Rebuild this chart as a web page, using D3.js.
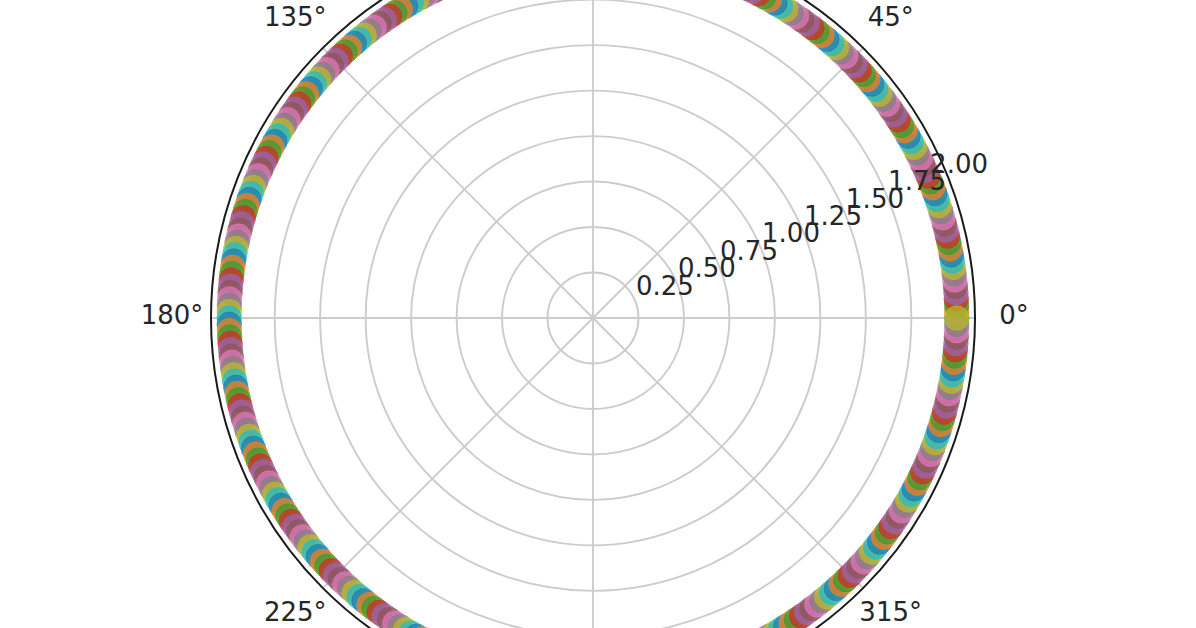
<!DOCTYPE html>
<html><head><meta charset="utf-8">
<script src="https://cdn.jsdelivr.net/npm/d3@7"></script>
<style>html,body{margin:0;padding:0;background:#fff;overflow:hidden}</style>
</head><body><svg id="chart" width="1196" height="628"></svg>
<script>
// angle of each point, in degrees (points evenly spaced around the circle)
const thetaDeg = [
0,1,2,3,4,5,6,7,8,9,10,11,12,13,14,15,16,17,18,19,
20,21,22,23,24,25,26,27,28,29,30,31,32,33,34,35,36,37,38,39,
40,41,42,43,44,45,46,47,48,49,50,51,52,53,54,55,56,57,58,59,
60,61,62,63,64,65,66,67,68,69,70,71,72,73,74,75,76,77,78,79,
80,81,82,83,84,85,86,87,88,89,
91,92,93,94,95,96,97,98,99,
100,101,102,103,104,105,106,107,108,109,110,111,112,113,114,115,116,117,118,119,
120,121,122,123,124,125,126,127,128,129,130,131,132,133,134,135,136,137,138,139,
140,141,142,143,144,145,146,147,148,149,150,151,152,153,154,155,156,157,158,159,
160,161,162,163,164,165,166,167,168,169,170,171,172,173,174,175,176,177,178,179,
180,181,182,183,184,185,186,187,188,189,190,191,192,193,194,195,196,197,198,199,
200,201,202,203,204,205,206,207,208,209,210,211,212,213,214,215,216,217,218,219,
220,221,222,223,224,225,226,227,228,229,230,231,232,233,234,235,236,237,238,239,
240,241,242,243,244,245,246,247,248,249,250,251,252,253,254,255,256,257,258,259,
260,261,262,263,264,265,266,267,268,269,
271,272,273,274,275,276,277,278,279,
280,281,282,283,284,285,286,287,288,289,290,291,292,293,294,295,296,297,298,299,
300,301,302,303,304,305,306,307,308,309,310,311,312,313,314,315,316,317,318,319,
320,321,322,323,324,325,326,327,328,329,330,331,332,333,334,335,336,337,338,339,
340,341,342,343,344,345,346,347,348,349,350,351,352,353,354,355,356,357,358,359,
360
];
// radius of each point
const rValues = [
2,2,2,2,2,2,2,2,2,2,2,2,2,2,2,2,2,2,2,2,
2,2,2,2,2,2,2,2,2,2,2,2,2,2,2,2,2,2,2,2,
2,2,2,2,2,2,2,2,2,2,2,2,2,2,2,2,2,2,2,2,
2,2,2,2,2,2,2,2,2,2,2,2,2,2,2,2,2,2,2,2,
2,2,2,2,2,2,2,2,2,2,2,2,2,2,2,2,2,2,2,2,
2,2,2,2,2,2,2,2,2,2,2,2,2,2,2,2,2,2,2,2,
2,2,2,2,2,2,2,2,2,2,2,2,2,2,2,2,2,2,2,2,
2,2,2,2,2,2,2,2,2,2,2,2,2,2,2,2,2,2,2,2,
2,2,2,2,2,2,2,2,2,2,2,2,2,2,2,2,2,2,2,2,
2,2,2,2,2,2,2,2,2,2,2,2,2,2,2,2,2,2,2,2,
2,2,2,2,2,2,2,2,2,2,2,2,2,2,2,2,2,2,2,2,
2,2,2,2,2,2,2,2,2,2,2,2,2,2,2,2,2,2,2,2,
2,2,2,2,2,2,2,2,2,2,2,2,2,2,2,2,2,2,2,2,
2,2,2,2,2,2,2,2,2,2,2,2,2,2,2,2,2,2,2,2,
2,2,2,2,2,2,2,2,2,2,2,2,2,2,2,2,2,2,2,2,
2,2,2,2,2,2,2,2,2,2,2,2,2,2,2,2,2,2,2,2,
2,2,2,2,2,2,2,2,2,2,2,2,2,2,2,2,2,2,2,2,
2,2,2,2,2,2,2,2,2,2,2,2,2,2,2,2,2,2,2
];
// angular ticks; 90° and 270° labels fall outside the visible frame, as in the reference
const thetaTicks = [0, 45, 90, 135, 180, 225, 270, 315];
const thetaTickLabels = ["0°", "45°", "90°", "135°", "180°", "225°", "270°", "315°"];
const rTicks = [0.25, 0.5, 0.75, 1.0, 1.25, 1.5, 1.75, 2.0];
const rTickLabels = ["0.25", "0.50", "0.75", "1.00", "1.25", "1.50", "1.75", "2.00"];
const rDomain = [0, 2.1];
const palette = ["#1f77b4","#ff7f0e","#2ca02c","#d62728","#9467bd","#8c564b","#e377c2","#7f7f7f","#bcbd22","#17becf"];

const W = 1196, H = 628;
const cx = 593, cy = 318, R = 382;
const svg = d3.select("#chart");
svg.append("rect").attr("width", W).attr("height", H).attr("fill", "#fff");

const rScale = d3.scaleLinear().domain(rDomain).range([0, R]);
const aScale = d3.scaleLinear().domain([0, 360]).range([0, 2 * Math.PI]);
const X = (t, v) => cx + rScale(v) * Math.cos(aScale(t));
const Y = (t, v) => cy - rScale(v) * Math.sin(aScale(t));

const g = svg.append("g");
// grid circles
g.selectAll("circle.grid").data(rTicks).join("circle")
  .attr("class", "grid").attr("cx", cx).attr("cy", cy)
  .attr("r", d => rScale(d)).attr("fill", "none")
  .attr("stroke", "#cccccc").attr("stroke-width", 1.9);
// radial grid lines
g.selectAll("line.spoke").data(thetaTicks).join("line")
  .attr("class", "spoke")
  .attr("x1", cx).attr("y1", cy)
  .attr("x2", d => X(d, rDomain[1])).attr("y2", d => Y(d, rDomain[1]))
  .attr("stroke", "#cccccc").attr("stroke-width", 1.9);
// outer frame
g.append("circle").attr("cx", cx).attr("cy", cy).attr("r", rScale(rDomain[1]))
  .attr("fill", "none").attr("stroke", "#1a1a1a").attr("stroke-width", 2);

// points
const n = Math.min(thetaDeg.length, rValues.length);
const pts = d3.range(n).map(i => ({ t: thetaDeg[i], v: rValues[i], i }));
g.selectAll("circle.pt").data(pts).join("circle")
  .attr("class", "pt")
  .attr("cx", d => X(d.t, d.v)).attr("cy", d => Y(d.t, d.v))
  .attr("r", 12.3)
  .attr("fill", d => palette[d.i % 10]).attr("fill-opacity", 0.7)
  .attr("stroke", d => palette[d.i % 10]).attr("stroke-opacity", 0.7).attr("stroke-width", 0.8);

// radial tick labels (along 22.5°)
g.selectAll("text.rlab").data(rTicks).join("text")
  .attr("class", "rlab")
  .attr("x", d => X(22.5, d) + 1).attr("y", d => Y(22.5, d) - 6)
  .attr("font-family", "DejaVu Sans, sans-serif").attr("font-size", 26)
  .attr("fill", "#262626").attr("text-anchor", "start")
  .text((d, i) => rTickLabels[i]);

// angular tick labels (only those inside the visible frame)
const thetaLab = thetaTicks.map((d, i) => ({
  x: cx + (R + 39) * Math.cos(aScale(d)),
  y: cy - (R + 39) * Math.sin(aScale(d)) + 5.5,
  label: thetaTickLabels[i]
})).filter(d => d.y > 0 && d.y < H);
g.selectAll("text.tlab").data(thetaLab).join("text")
  .attr("class", "tlab")
  .attr("x", d => d.x).attr("y", d => d.y)
  .attr("font-family", "DejaVu Sans, sans-serif").attr("font-size", 26)
  .attr("fill", "#262626").attr("text-anchor", "middle")
  .text(d => d.label);
</script>
</body></html>
